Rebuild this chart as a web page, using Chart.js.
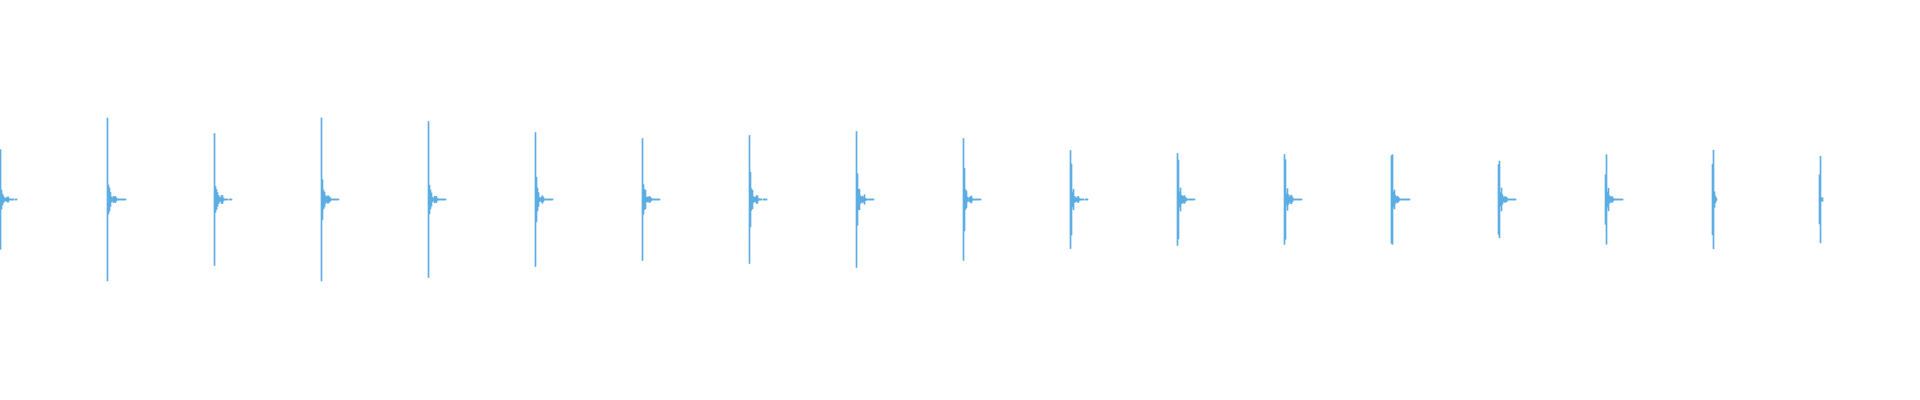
<!DOCTYPE html>
<html>
<head>
<meta charset="utf-8">
<script src="https://cdn.jsdelivr.net/npm/chart.js@4/dist/chart.umd.min.js"></script>
<style>
  html, body { margin: 0; padding: 0; background: #ffffff; }
  #wrap { width: 1920px; height: 400px; }
</style>
</head>
<body>
<div id="wrap"><canvas id="c" width="1920" height="400"></canvas></div>
<script>
// Waveform of 18 clicks; each click is a list of per-column peak amplitudes (full scale = 1)
const columnStep = 0.005; // seconds per column
const clipStart = 0;
const clipEnd = 9.6;

const clickTimes = [0, 0.535, 1.07, 1.605, 2.14, 2.675, 3.21, 3.745, 4.28, 4.815, 5.35, 5.885, 6.42, 6.955, 7.49, 8.025, 8.56, 9.095];

const click01 = [0.25, 0.0475, 0.0275, 0.0165, 0.0075, 0.0075, 0.0075, 0.0125, 0.0125, 0.0025, 0.0025, 0.0025, 0.0025, 0.0025, 0, 0.0025, 0.0025];
const click02 = [0.4075, 0.0725, 0.0575, 0.035, 0.0125, 0.0075, 0.016, 0.0125, 0.015, 0.0075, 0.0025, 0.0025, 0.0025, 0.0025, 0.0025, 0.0025, 0.0025, 0.0025, 0.0025];
const click03 = [0.33, 0.065, 0.05, 0.035, 0.021, 0.0125, 0.0075, 0.02, 0.02, 0.0075, 0.0025, 0.0025, 0.0025, 0.0025, 0, 0.0025, 0.0025, 0.0025];
const click04 = [0.4075, 0.1, 0.0475, 0.0375, 0.02, 0.0125, 0.0175, 0.0175, 0.0125, 0.0075, 0.0025, 0.0025, 0.0025, 0.0025, 0.0025, 0.0025, 0.0025, 0.0025];
const click05 = [0.39, 0.0715, 0.0475, 0.0325, 0.011, 0.005, 0.0165, 0.0135, 0.015, 0.005, 0.0025, 0.0025, 0.0025, 0.0025, 0.0025, 0.0025, 0.0025, 0.0025];
const click06 = [0.335, 0.1115, 0.0575, 0.035, 0.011, 0.006, 0.0125, 0.019, 0.01, 0.0025, 0.0025, 0.0025, 0.0025, 0.0025, 0.0025, 0.0025, 0.0025, 0.0025];
const click07 = [0.305, 0.074, 0.051, 0.046, 0.011, 0.0125, 0.011, 0.016, 0.011, 0.005, 0.0025, 0.0025, 0.0025, 0.0025, 0.0025, 0.0025, 0.0025, 0.0025];
const click08 = [0.32, 0.1365, 0.054, 0.046, 0.015, 0.011, 0.011, 0.019, 0.019, 0.005, 0.0025, 0.0025, 0.0025, 0, 0.0025, 0.0025, 0.0025, 0.0025];
const click09 = [0.34, 0.129, 0.0515, 0.0515, 0.019, 0.0115, 0.0165, 0.0115, 0.024, 0.006, 0.0025, 0.0025, 0.0025, 0.0025, 0.0025, 0.0025, 0.0025, 0.0025];
const click10 = [0.305, 0.1565, 0.05, 0.0415, 0.0115, 0.005, 0.0115, 0.0135, 0.0175, 0.005, 0.0025, 0.0025, 0.0025, 0.0025, 0.0025, 0.0025, 0.0025, 0.0025];
const click11 = [0.245, 0.1775, 0.0375, 0.0515, 0.015, 0.0115, 0.0065, 0.0135, 0.015, 0.005, 0.0025, 0.0025, 0.0025, 0.0025, 0, 0.0025, 0.0025, 0.0025];
const click12 = [0.23, 0.1965, 0.0375, 0.0575, 0.0215, 0.016, 0.0175, 0.019, 0.0115, 0.005, 0.0025, 0.0025, 0.0025, 0.0025, 0.0025, 0.0025, 0.0025, 0.0025];
const click13 = [0.225, 0.199, 0.029, 0.054, 0.024, 0.0135, 0.019, 0.0215, 0.0115, 0.0025, 0.0025, 0.0025, 0.0025, 0.0025, 0.0025, 0.0025, 0.0025, 0.0025];
const click14 = [0.219, 0.224, 0.0375, 0.0475, 0.019, 0.0115, 0.0165, 0.0115, 0.005, 0.0025, 0.0025, 0.0025, 0.0025, 0.0025, 0.0025, 0.0025, 0.0025, 0.0025, 0.0025];
const click15 = [0.174, 0.1915, 0.034, 0.0575, 0.024, 0.0115, 0.0135, 0.0135, 0.0115, 0.005, 0.0025, 0.0025, 0.0025, 0.0025, 0.0025, 0.0025, 0.0025, 0.0025];
const click16 = [0.124, 0.224, 0.0375, 0.0565, 0.019, 0.0115, 0.015, 0.0135, 0.005, 0.0025, 0.0025, 0.0025, 0.0025, 0.0025, 0.0025, 0.0025, 0.0025, 0.0025];
const click17 = [0.1765, 0.2465, 0.039, 0.0165, 0.005];
const click18 = [0.1225, 0.2165, 0.0075, 0.009];

const clicks = [click01, click02, click03, click04, click05, click06, click07, click08, click09,
                click10, click11, click12, click13, click14, click15, click16, click17, click18];

const points = [];
clickTimes.forEach((t0, i) => {
  clicks[i].forEach((amp, k) => {
    if (amp > 0) points.push({ x: t0 + k * columnStep, y: [-amp, amp] });
  });
});

new Chart(document.getElementById('c'), {
  type: 'bar',
  data: {
    datasets: [{
      data: points,
      backgroundColor: '#5dade2',
      borderWidth: 0,
      barThickness: 1,
      grouped: false
    }]
  },
  options: {
    responsive: false,
    animation: false,
    devicePixelRatio: 1,
    layout: { padding: 0 },
    plugins: { legend: { display: false }, tooltip: { enabled: false } },
    scales: {
      x: { type: 'linear', min: clipStart - columnStep / 2, max: clipEnd - columnStep / 2, display: false, offset: false },
      y: { min: -1.0025, max: 0.9975, display: false }
    }
  }
});
</script>
</body>
</html>
